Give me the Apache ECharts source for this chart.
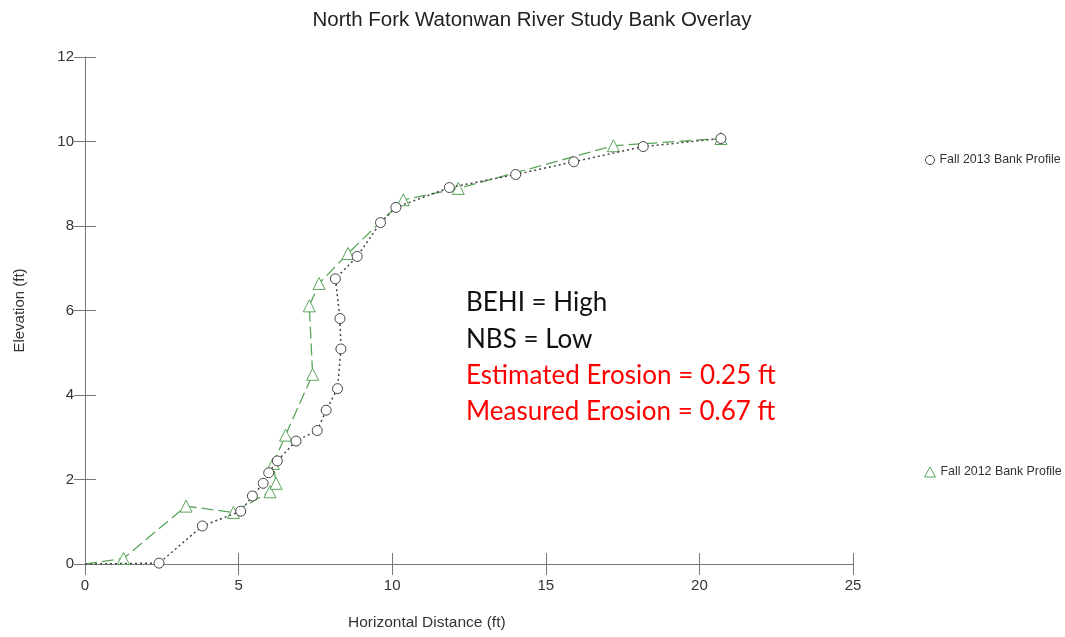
<!DOCTYPE html>
<html>
<head>
<meta charset="utf-8">
<script src="https://cdn.jsdelivr.net/npm/echarts@6/dist/echarts.min.js"></script>
<style>html,body{margin:0;padding:0;background:#fff}#c{width:1065px;height:637px}</style>
</head>
<body>
<div id="c"></div>
<script>
const titleText = 'North Fork Watonwan River Study Bank Overlay';
const xName = 'Horizontal Distance (ft)';
const yName = 'Elevation (ft)';
const name2013 = 'Fall 2013 Bank Profile';
const name2012 = 'Fall 2012 Bank Profile';
const x2013 = [0, 2.41, 3.82, 5.07, 5.45, 5.80, 5.98, 6.26, 6.87, 7.56, 7.85, 8.22, 8.33, 8.30, 8.15, 8.86, 9.62, 10.12, 11.86, 14.02, 15.91, 18.17, 20.70];
const y2013 = [0, 0.02, 0.90, 1.25, 1.61, 1.91, 2.16, 2.44, 2.91, 3.16, 3.64, 4.15, 5.09, 5.81, 6.75, 7.28, 8.08, 8.44, 8.91, 9.22, 9.52, 9.88, 10.07];
const x2012 = [0, 1.25, 3.29, 4.83, 6.02, 6.22, 6.13, 6.53, 7.41, 7.30, 7.62, 8.56, 10.36, 12.15, 17.20, 20.70];
const y2012 = [0, 0.13, 1.37, 1.22, 1.71, 1.91, 2.38, 3.05, 4.49, 6.11, 6.64, 7.35, 8.62, 8.89, 9.90, 10.07];
const notesBlack = ['BEHI = High', 'NBS = Low'];
const notesRed = ['Estimated Erosion = 0.25 ft', 'Measured Erosion = 0.67 ft'];

const green = '#5aa55a';
const dark = '#444';
const sans = 'Liberation Sans, Arial, sans-serif';
function pts(xs, ys) {
  return xs.map((x, i) => i === 0 ? {value: [x, ys[i]], symbol: 'none'} : [x, ys[i]]);
}
const chart = echarts.init(document.getElementById('c'));
const axisFont = {fontFamily: sans, fontSize: 15, color: '#333'};
const noteFont = 'Lato, "Open Sans", sans-serif';
const graphics = [];
notesBlack.concat(notesRed).forEach((t, i) => {
  graphics.push({type: 'text', x: 466, y: 303 + i * 36.2, style: {text: t, font: '26px ' + noteFont, fill: i < 2 ? '#111' : '#ff0000', verticalAlign: 'middle'}});
});
graphics.push({type: 'text', x: 348, y: 623, style: {text: xName, font: '15.5px ' + sans, fill: '#333', verticalAlign: 'middle'}});
const legendText = {fontFamily: sans, fontSize: 12.4, color: '#333'};
chart.setOption({
  animation: false,
  title: {text: titleText, left: 527, top: 5, textAlign: 'center', textStyle: {fontFamily: sans, fontSize: 20.5, fontWeight: 'normal', color: '#222'}},
  grid: {left: 85, right: 212, top: 57, bottom: 73},
  legend: [
    {data: [{name: name2013, icon: 'circle'}], left: 920, top: 149, itemWidth: 9, itemHeight: 9, itemGap: 6, itemStyle: {borderWidth: 1}, textStyle: legendText},
    {data: [{name: name2012, icon: 'triangle'}], left: 919, top: 461, itemWidth: 11, itemHeight: 10, itemGap: 6, itemStyle: {borderWidth: 1}, textStyle: legendText}
  ],
  xAxis: [
    {type: 'value', min: 0, max: 25, interval: 5, splitLine: {show: false},
     axisLine: {lineStyle: {color: '#777'}}, axisTick: {length: 11, lineStyle: {color: '#777'}},
     axisLabel: Object.assign({margin: 14}, axisFont)},
    {type: 'value', position: 'bottom', min: 0, max: 25, interval: 5, splitLine: {show: false},
     axisLine: {show: false}, axisTick: {inside: true, length: 11, lineStyle: {color: '#777'}}, axisLabel: {show: false}}
  ],
  yAxis: [
    {type: 'value', min: 0, max: 12, interval: 2, splitLine: {show: false},
     name: yName, nameLocation: 'middle', nameGap: 58, nameTextStyle: {fontFamily: sans, fontSize: 15, color: '#333'},
     axisLine: {show: true, lineStyle: {color: '#777'}}, axisTick: {show: true, length: 11, lineStyle: {color: '#777'}},
     axisLabel: Object.assign({margin: 11}, axisFont)},
    {type: 'value', position: 'left', min: 0, max: 12, interval: 2, splitLine: {show: false},
     axisLine: {show: false}, axisTick: {show: true, inside: true, length: 11, lineStyle: {color: '#777'}}, axisLabel: {show: false}}
  ],
  graphic: graphics,
  series: [
    {name: name2013, type: 'line', data: pts(x2013, y2013), symbol: 'circle', symbolSize: 10,
     itemStyle: {color: '#fff', borderColor: dark, borderWidth: 1},
     lineStyle: {color: dark, width: 1.5, type: [2, 3]}, z: 3},
    {name: name2012, type: 'line', data: pts(x2012, y2012), symbol: 'triangle', symbolSize: 12,
     itemStyle: {color: '#fff', borderColor: green, borderWidth: 1},
     lineStyle: {color: green, width: 1.3, type: [12, 5]}, z: 2}
  ]
});
</script>
</body>
</html>
